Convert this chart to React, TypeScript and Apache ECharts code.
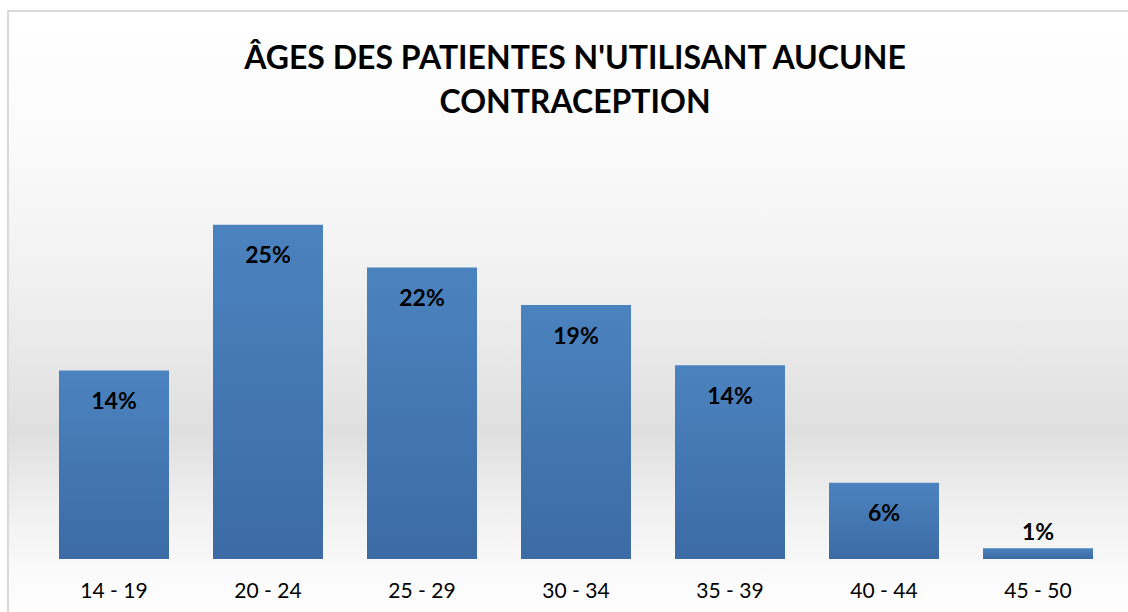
import React, { useEffect, useRef } from "react";
import * as echarts from "echarts";

const categories = ["14 - 19", "20 - 24", "25 - 29", "30 - 34", "35 - 39", "40 - 44", "45 - 50"];
const values = [14.1, 25, 21.8, 19, 14.5, 5.7, 0.8];
const labels = ["14%", "25%", "22%", "19%", "14%", "6%", "1%"];
const titleText = "ÂGES DES PATIENTES N'UTILISANT AUCUNE\nCONTRACEPTION";

export default function App() {
  const ref = useRef<HTMLDivElement>(null);
  useEffect(() => {
    if (!ref.current) return;
    const chart = echarts.init(ref.current, null, { renderer: "svg" });
    const barColor = new echarts.graphic.LinearGradient(0, 0, 0, 1, [
      { offset: 0, color: "#4b83bf" },
      { offset: 1, color: "#3c6ba5" },
    ]);
    chart.setOption({
      animation: false,
      backgroundColor: "#ffffff",
      graphic: [
        {
          type: "rect",
          z: -10,
          silent: true,
          shape: { x: 8, y: 11, width: 1130, height: 610 },
          style: {
            fill: new echarts.graphic.LinearGradient(0, 0, 0, 1, [
              { offset: 0, color: "#ffffff" },
              { offset: 0.2, color: "#fbfbfb" },
              { offset: 0.45, color: "#f0f0f0" },
              { offset: 0.69, color: "#dfdfdf" },
              { offset: 0.8, color: "#eeeeee" },
              { offset: 0.92, color: "#fafafa" },
              { offset: 1, color: "#ffffff" },
            ]),
            stroke: "#d9d9d9",
            lineWidth: 2,
          },
        },
      ],
      title: {
        text: titleText,
        left: 575,
        top: 34,
        padding: 0,
        textAlign: "center",
        textStyle: {
          fontFamily: "Lato",
          fontWeight: "bold",
          fontSize: 32,
          lineHeight: 44,
          color: "#000000",
        },
      },
      grid: { left: 37, right: 13, top: 158, bottom: 53, containLabel: false },
      xAxis: {
        type: "category",
        data: categories,
        axisLine: { show: false },
        axisTick: { show: false },
        axisLabel: {
          fontFamily: "Lato",
          fontSize: 21,
          color: "#000000",
          margin: 20,
        },
      },
      yAxis: {
        type: "value",
        min: 0,
        max: 30,
        show: false,
        splitLine: { show: false },
      },
      series: [
        {
          type: "bar",
          barWidth: 110,
          data: values.map((v, i) => {
            const item: any = { value: v };
            if (i === values.length - 1) {
              item.label = { position: "top", distance: 6 };
            }
            return item;
          }),
          itemStyle: { color: barColor },
          label: {
            show: true,
            position: "insideTop",
            distance: 18,
            fontFamily: "Lato",
            fontWeight: "bold",
            fontSize: 23,
            color: "#000000",
            formatter: (p: any) => labels[p.dataIndex],
          },
        },
      ],
    });
    return () => chart.dispose();
  }, []);
  return (
    <div
      ref={ref}
      style={{ position: "fixed", left: 0, top: 0, width: 1128, height: 612 }}
    />
  );
}
